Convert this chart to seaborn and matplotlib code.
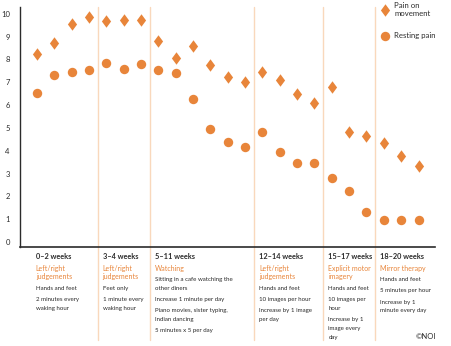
import numpy as np
import pandas as pd
import matplotlib
matplotlib.use("Agg")
import matplotlib.pyplot as plt
import seaborn as sns
from matplotlib.transforms import blended_transform_factory
from matplotlib.path import Path

# ---- data ----
pain_on_movement = [8.25, 8.7, 9.55, 9.85, 9.7, 9.75, 9.75, 8.8, 8.05, 8.6, 7.75, 7.25,
                    7.0, 7.45, 7.1, 6.5, 6.1, 6.8, 4.8, 4.65, 4.35, 3.75, 3.35]
resting_pain = [6.55, 7.3, 7.45, 7.55, 7.85, 7.6, 7.8, 7.55, 7.4, 6.25, 4.95, 4.4,
                4.15, 4.8, 3.95, 3.45, 3.45, 2.8, 2.25, 1.3, 0.95, 0.95, 0.95]
sessions = list(range(len(pain_on_movement)))
phase_boundaries = [3.5, 6.5, 12.5, 16.5, 19.5]
phase_starts = [-0.06, 3.5, 6.5, 12.5, 16.5, 19.5]
phase_titles = ["0–2 weeks", "3–4 weeks", "5–11 weeks", "12–14 weeks", "15–17 weeks", "18–20 weeks"]
phase_methods = [["Left/right", "judgements"], ["Left/right", "judgements"], ["Watching"],
                 ["Left/right", "judgements"], ["Explicit motor", "imagery"], ["Mirror therapy"]]
phase_details = [
    [["Hands and feet"], ["2 minutes every", "waking hour"]],
    [["Feet only"], ["1 minute every", "waking hour"]],
    [["Sitting in a cafe watching the", "other diners"], ["Increase 1 minute per day"],
     ["Piano movies, sister typing,", "Indian dancing"], ["5 minutes x 5 per day"]],
    [["Hands and feet"], ["10 images per hour"], ["Increase by 1 image", "per day"]],
    [["Hands and feet"], ["10 images per", "hour"], ["Increase by 1", "image every", "day"]],
    [["Hands and feet"], ["5 minutes per hour"], ["Increase by 1", "minute every day"]],
]
yticks = list(range(0, 11))

move_df = pd.DataFrame({"session": sessions, "pain": pain_on_movement})
rest_df = pd.DataFrame({"session": sessions, "pain": resting_pain})

# ---- style ----
sns.set_theme(style="white")
plt.rcParams["font.family"] = ["Lato", "DejaVu Sans"]
ORANGE = "#E8853A"
LINE = "#F9D8BC"
DARK = "#2b2b2b"

W, H = 451, 346
fig = plt.figure(figsize=(W / 100, H / 100), dpi=100)
ax = fig.add_axes([19.5 / W, 1 - 246.5 / H, (435 - 19.5) / W, (246.5 - 7) / H])

diamond = Path([(0, 1), (0.74, 0), (0, -1), (-0.74, 0), (0, 1)],
               [Path.MOVETO, Path.LINETO, Path.LINETO, Path.LINETO, Path.CLOSEPOLY])

sns.scatterplot(data=move_df, x="session", y="pain", marker=diamond, color=ORANGE,
                s=80, linewidth=0, ax=ax, zorder=3, label="Pain on\nmovement")
sns.scatterplot(data=rest_df, x="session", y="pain", marker="o", color=ORANGE,
                s=46, linewidth=0, ax=ax, zorder=3, label="Resting pain")

ax.set_xlim(-1.0, 22.95)
ax.set_ylim(-0.2, 10.3)
ax.set_xticks([])
ax.set_yticks(yticks)
ax.set_yticklabels([str(t) for t in yticks], fontsize=5.5, color=DARK)
ax.tick_params(axis="y", length=0, pad=7)
ax.set_xlabel("")
ax.set_ylabel("")
for side in ["top", "right"]:
    ax.spines[side].set_visible(False)
ax.spines["left"].set_color(DARK)
ax.spines["bottom"].set_color(DARK)
ax.spines["left"].set_linewidth(1.0)
ax.spines["bottom"].set_linewidth(1.2)

for b in phase_boundaries:
    ax.axvline(b, ymin=-0.39, ymax=1.0, color=LINE, lw=1.0, clip_on=False, zorder=1)

# legend
leg = ax.legend(loc="upper left", bbox_to_anchor=(363 / (435 - 19.5) - 0.02, 1.035),
                frameon=False, fontsize=5.6, handletextpad=0.15, labelspacing=1.9,
                borderaxespad=0, markerscale=1.0)
for t in leg.get_texts():
    t.set_color(DARK)

# annotations below the axis
tr = blended_transform_factory(ax.transData, fig.transFigure)
def fy(py):
    return 1 - py / H

for i, x0 in enumerate(phase_starts):
    x = x0 + 0.3 if i > 0 else x0
    ax.text(x, fy(256.7), phase_titles[i], transform=tr, fontsize=5.3, fontweight="bold",
            color=DARK, va="center", ha="left")
    y = 268.3
    for line in phase_methods[i]:
        ax.text(x, fy(y), line, transform=tr, fontsize=5.0, color=ORANGE,
                va="center", ha="left")
        y += 8.7
    y += 2.6
    for para in phase_details[i]:
        for line in para:
            ax.text(x, fy(y), line, transform=tr, fontsize=4.4, color=DARK,
                    va="center", ha="left")
            y += 8.7
        y += 2.6

fig.text(425.7 / W, fy(336.7), "©NOI", fontsize=5.5, color=DARK, ha="center", va="center")

fig.savefig("out.png", dpi=100)
